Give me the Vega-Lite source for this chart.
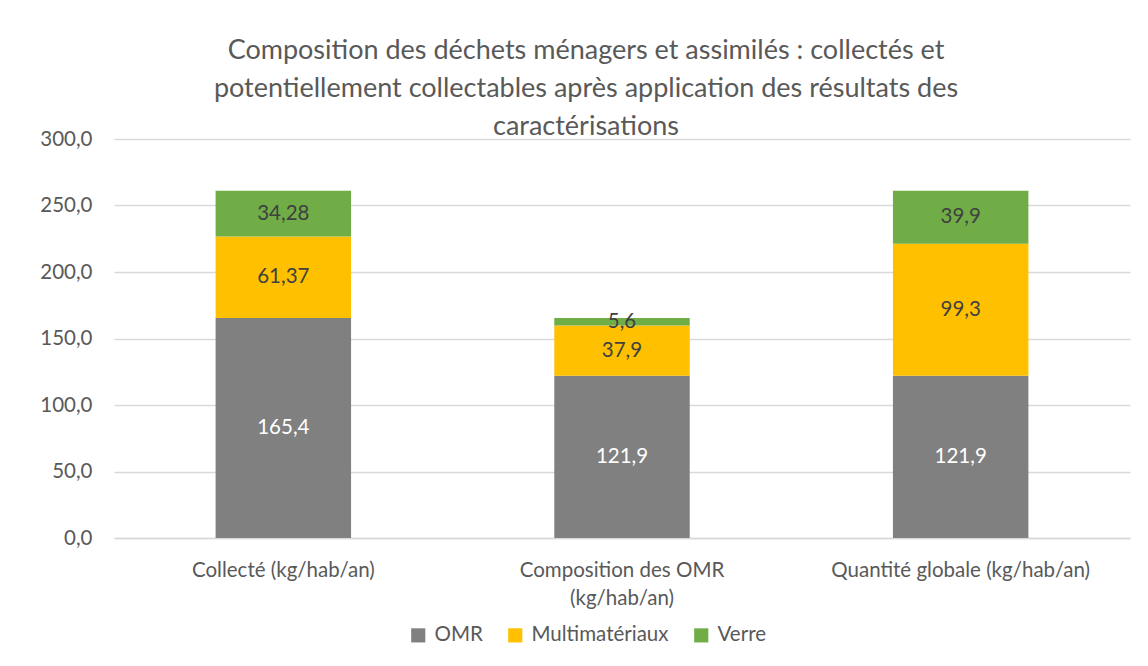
{
  "$schema": "https://vega.github.io/schema/vega-lite/v6.json",
  "width": 1016,
  "height": 399,
  "autosize": {"type": "none"},
  "padding": {"left": 114, "top": 139, "right": 18, "bottom": 128},
  "background": "white",
  "config": {
    "font": "Lato",
    "view": {"stroke": null},
    "locale": {"number": {"decimal": ",", "thousands": " ", "grouping": [3], "currency": ["", " €"]}}
  },
  "title": {
    "text": ["Composition des déchets ménagers et assimilés : collectés et", "potentiellement collectables après application des résultats des", "caractérisations"],
    "fontSize": 27,
    "fontWeight": "normal",
    "color": "#595959",
    "lineHeight": 38,
    "anchor": "middle",
    "dx": -36,
    "offset": -12
  },
  "data": {
    "values": [
      {"cat": "Collecté (kg/hab/an)", "type": "OMR", "ord": 1, "val": 165.4},
      {"cat": "Collecté (kg/hab/an)", "type": "Multimatériaux", "ord": 2, "val": 61.37},
      {"cat": "Collecté (kg/hab/an)", "type": "Verre", "ord": 3, "val": 34.28},
      {"cat": "Composition des OMR (kg/hab/an)", "type": "OMR", "ord": 1, "val": 121.9},
      {"cat": "Composition des OMR (kg/hab/an)", "type": "Multimatériaux", "ord": 2, "val": 37.9},
      {"cat": "Composition des OMR (kg/hab/an)", "type": "Verre", "ord": 3, "val": 5.6},
      {"cat": "Quantité globale (kg/hab/an)", "type": "OMR", "ord": 1, "val": 121.9},
      {"cat": "Quantité globale (kg/hab/an)", "type": "Multimatériaux", "ord": 2, "val": 99.3},
      {"cat": "Quantité globale (kg/hab/an)", "type": "Verre", "ord": 3, "val": 39.9}
    ]
  },
  "transform": [
    {"stack": "val", "groupby": ["cat"], "sort": [{"field": "ord"}], "as": ["v0", "v1"]},
    {"calculate": "(datum.v0 + datum.v1) / 2", "as": "mid"}
  ],
  "encoding": {
    "x": {
      "field": "cat",
      "type": "nominal",
      "sort": null,
      "title": null,
      "scale": {"paddingInner": 0.6, "paddingOuter": 0.3},
      "axis": {
        "labelAngle": 0,
        "labelFontSize": 20.5,
        "labelColor": "#595959",
        "labelPadding": 22,
        "labelLineHeight": 28,
        "labelLimit": 0,
        "ticks": false,
        "domainColor": "#d9d9d9",
        "domainWidth": 1.5,
        "labelExpr": "datum.label == 'Composition des OMR (kg/hab/an)' ? ['Composition des OMR', '(kg/hab/an)'] : datum.label"
      }
    }
  },
  "layer": [
    {
      "mark": {"type": "bar"},
      "encoding": {
        "y": {
          "field": "v0",
          "type": "quantitative",
          "title": null,
          "scale": {"domain": [0, 300]},
          "axis": {
            "values": [0, 50, 100, 150, 200, 250, 300],
            "format": ",.1f",
            "labelFontSize": 20.5,
            "labelColor": "#595959",
            "labelPadding": 22,
            "ticks": false,
            "domain": false,
            "gridColor": "#d9d9d9",
            "gridWidth": 1.5
          }
        },
        "y2": {"field": "v1"},
        "color": {
          "field": "type",
          "type": "nominal",
          "sort": ["OMR", "Multimatériaux", "Verre"],
          "scale": {"domain": ["OMR", "Multimatériaux", "Verre"], "range": ["#808080", "#FFC000", "#70AD47"]},
          "legend": {
            "title": null,
            "orient": "none",
            "direction": "horizontal",
            "legendX": 294,
            "legendY": 486,
            "symbolType": "square",
            "symbolSize": 200,
            "symbolStrokeWidth": 0,
            "labelFontSize": 20.5,
            "labelColor": "#595959",
            "columnPadding": 22,
            "labelOffset": 6
          }
        }
      }
    },
    {
      "mark": {"type": "text", "fontSize": 20.5, "baseline": "middle"},
      "encoding": {
        "y": {"field": "mid", "type": "quantitative"},
        "text": {"field": "val", "type": "quantitative", "format": "~r"},
        "color": {
          "condition": {"test": "datum.type == 'OMR'", "value": "white"},
          "value": "#404040"
        }
      }
    }
  ]
}
